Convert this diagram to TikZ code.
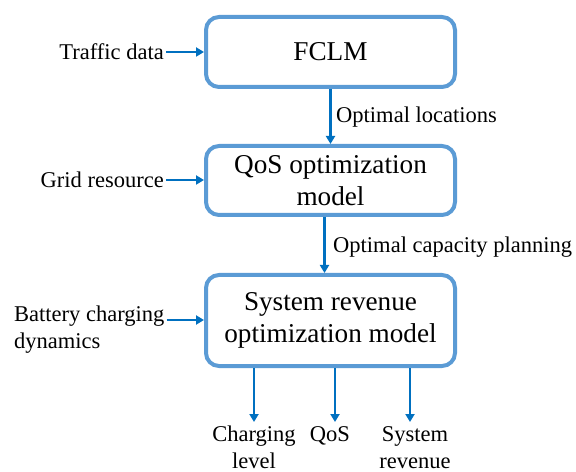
\documentclass[tikz,border=0pt]{standalone}
\usepackage{fontspec}
\setmainfont{Liberation Serif}
\usetikzlibrary{arrows.meta}
\definecolor{boxblue}{RGB}{91,155,213}
\definecolor{arrblue}{RGB}{0,112,192}
\begin{document}
\begin{tikzpicture}[x=1bp,y=-1bp,
  modelbox/.style={draw=boxblue,line width=4bp,rounded corners=13bp,fill=white,
    align=center,inner sep=0pt,font=\fontsize{27.3}{32}\selectfont},
  lbl/.style={inner sep=2bp,font=\fontsize{22.6}{27}\selectfont},
  flow/.style={draw=arrblue,line width=2.5bp,-{Triangle[length=8bp,width=9bp]}}]
\useasboundingbox (0,0) rectangle (576,472);
\node[modelbox,minimum width=249bp,minimum height=70bp] (b1) at (330.5,52) {FCLM};
\node[modelbox,minimum width=249bp,minimum height=69bp] (b2) at (330.5,180.5) {QoS optimization\\model};
\node[modelbox,minimum width=249bp,minimum height=91bp] (b3) at (330.5,320.5) {System revenue\\optimization model};
\node[lbl,anchor=east] (traffic) at (166,52) {Traffic data};
\node[lbl,anchor=east] (grid) at (166,180) {Grid resource};
\node[lbl,anchor=west,align=left] (bat) at (12,330) {Battery charging\\dynamics};
\node[lbl,anchor=west] (optloc) at (334,117) {Optimal locations};
\node[lbl,anchor=west] (optcap) at (331,247) {Optimal capacity planning};
\node[lbl,anchor=north,align=center] (chg) at (254,424) {Charging\\level};
\node[lbl,anchor=north,align=center] (qos) at (330,424) {QoS};
\node[lbl,anchor=north,align=center] (rev) at (415,424) {System\\revenue};
\coordinate (c1) at (254,422);
\coordinate (c2) at (335,422);
\coordinate (c3) at (410,422);
\path[flow] (traffic.east) -- (b1.west);
\path[flow] (grid.east) -- (b2.west |- grid.east);
\path[flow] (bat.east |- 0,320) -- (b3.west |- 0,320);
\path[flow] (b1.south) -- (b2.north);
\path[flow] ([xshift=-6bp]b2.south) -- ([xshift=-6bp]b3.north);
\path[flow] (c1 |- b3.south) -- (c1);
\path[flow] (c2 |- b3.south) -- (c2);
\path[flow] (c3 |- b3.south) -- (c3);
\end{tikzpicture}
\end{document}
